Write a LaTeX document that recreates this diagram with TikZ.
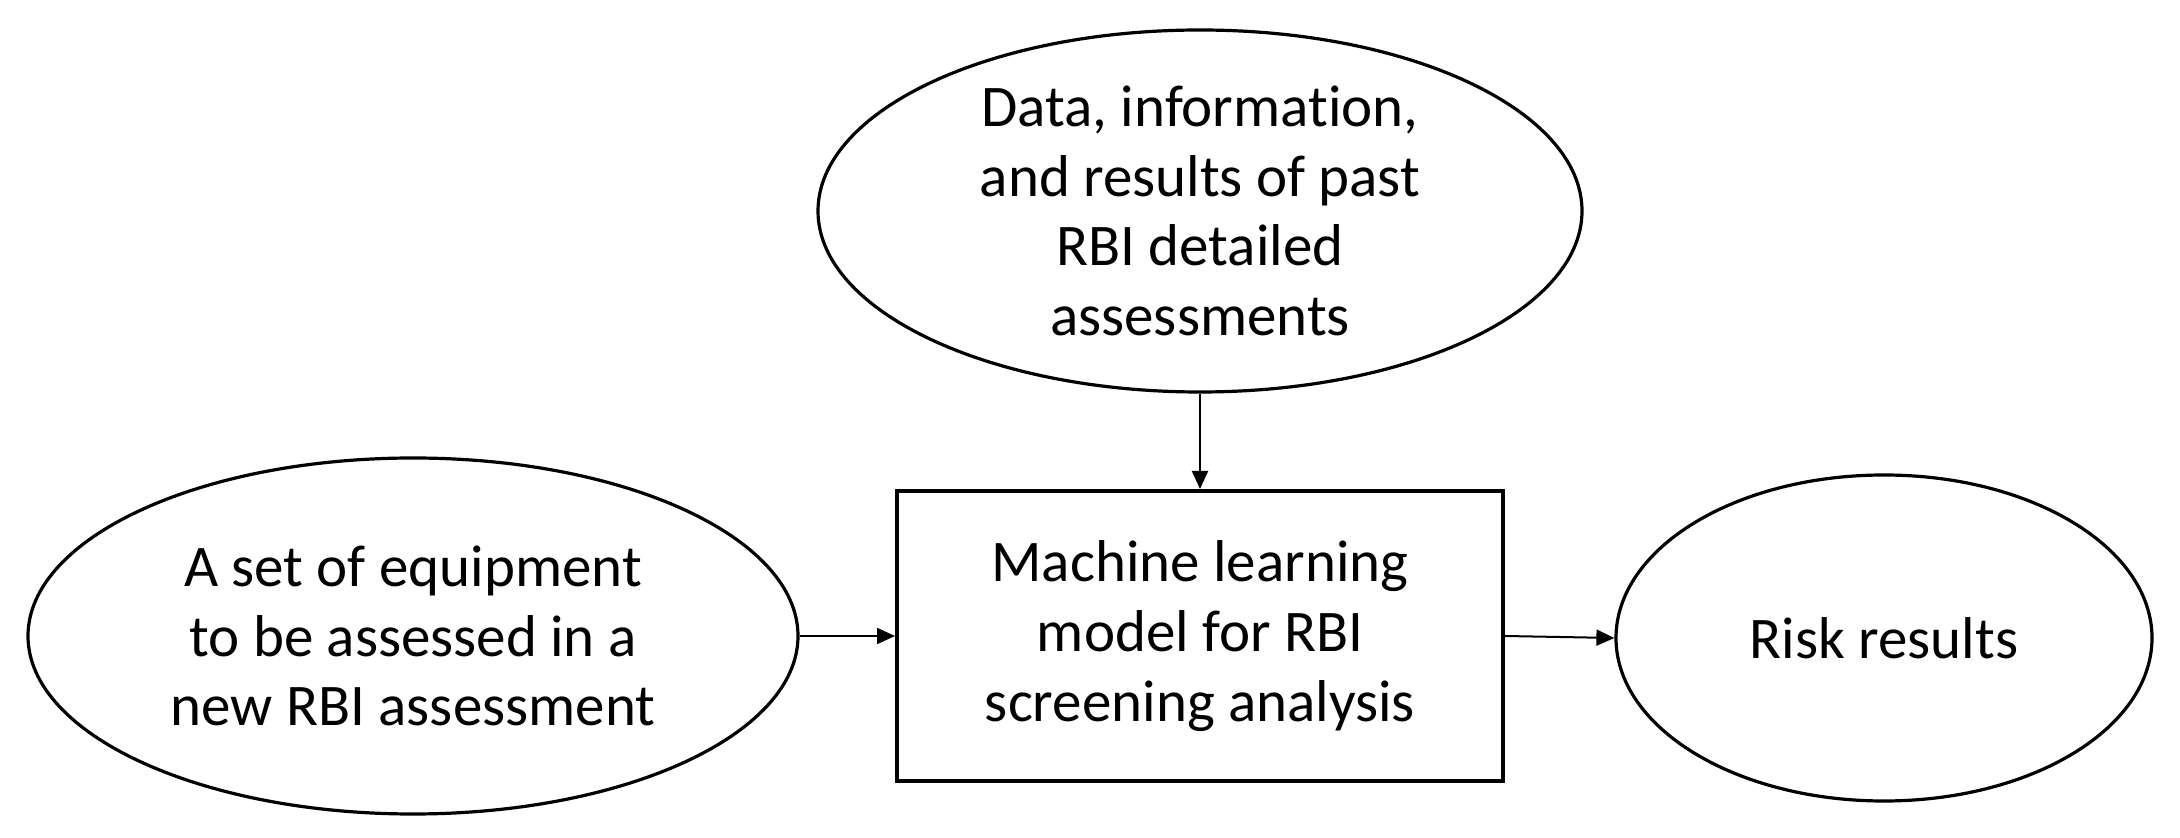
\documentclass[tikz,border=0pt]{standalone}
\usepackage{fontspec}
\setmainfont{Carlito}[Ligatures=NoCommon]
\usetikzlibrary{shapes.geometric,arrows.meta}
\tikzset{
  oval/.style={ellipse, draw, line width=1.6pt, inner sep=0pt, align=center,
    font=\fontsize{29.5}{34.8}\selectfont},
  proc/.style={rectangle, draw, line width=2pt, inner sep=0pt, align=center,
    font=\fontsize{29.5}{34.8}\selectfont},
  link/.style={line width=1pt, -{Triangle[length=9pt,width=8pt]}}
}
\begin{document}
\begin{tikzpicture}[x=0.5pt,y=-0.5pt]
\useasboundingbox (0,0) rectangle (2180,838);
\node[oval, minimum width=382pt, minimum height=181pt] (data) at (1200,211)
  {Data, information,\\and results of past\\RBI detailed\\assessments};
\node[oval, minimum width=385pt, minimum height=178pt] (equip) at (413,636)
  {A set of equipment\\to be assessed in a\\new RBI assessment};
\node[proc, minimum width=303pt, minimum height=145pt] (ml) at (1200,636)
  {Machine learning\\model for RBI\\screening analysis};
\node[oval, minimum width=268pt, minimum height=163pt] (risk) at (1884,638)
  {Risk results};
\draw[link] (data) -- (ml);
\draw[link] (equip) -- (ml);
\draw[link] (ml.east) -- (risk.west);
\end{tikzpicture}
\end{document}
